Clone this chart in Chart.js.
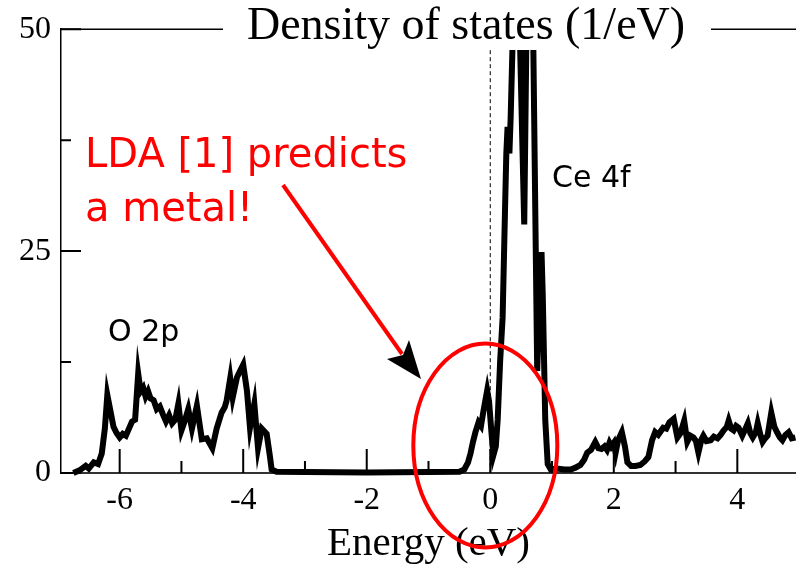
<!DOCTYPE html>
<html>
<head>
<meta charset="utf-8">
<script src="https://cdn.jsdelivr.net/npm/chart.js@4.4.0/dist/chart.umd.min.js"></script>
<style>
  body { margin: 0; background: #fff; }
  #wrap { width: 796px; height: 565px; }
</style>
</head>
<body>
<div id="wrap"><canvas id="dosChart" width="796" height="565"></canvas></div>
<script>
// Energy grid (eV) and density of states (1/eV)
const energy = [
  -6.75, -6.65, -6.55, -6.5, -6.42, -6.35, -6.29, -6.24, -6.2, -6.15,
  -6.1, -6.05, -6.0, -5.95, -5.9, -5.85, -5.8, -5.75, -5.7, -5.66,
  -5.62, -5.58, -5.54, -5.5, -5.45, -5.4, -5.35, -5.3, -5.25, -5.2,
  -5.15, -5.1, -5.05, -5.0, -4.95, -4.89, -4.83, -4.75, -4.67, -4.59,
  -4.5, -4.43, -4.35, -4.3, -4.27, -4.21, -4.17, -4.1, -4.05, -4.0,
  -3.94, -3.89, -3.82, -3.76, -3.7, -3.62, -3.57, -3.54, -3.46, -3.0,
  -2.0, -1.0, -0.5, -0.42, -0.36, -0.32, -0.28, -0.24, -0.19, -0.15,
  -0.11, -0.05, -0.02, 0.02, 0.05, 0.09, 0.12, 0.16, 0.2, 0.24,
  0.26, 0.28, 0.31, 0.33, 0.36, 0.4, 0.45, 0.55, 0.6, 0.68,
  0.76, 0.8, 0.83, 0.85, 0.89, 0.93, 0.98, 1.08, 1.2, 1.3,
  1.38, 1.46, 1.52, 1.57, 1.63, 1.7, 1.75, 1.8, 1.85, 1.89,
  1.93, 1.96, 2.0, 2.03, 2.07, 2.13, 2.18, 2.22, 2.28, 2.35,
  2.43, 2.5, 2.56, 2.62, 2.67, 2.72, 2.8, 2.85, 2.9, 2.97,
  3.03, 3.08, 3.14, 3.19, 3.24, 3.29, 3.33, 3.37, 3.42, 3.45,
  3.5, 3.57, 3.62, 3.68, 3.73, 3.78, 3.83, 3.86, 3.9, 3.94,
  3.98, 4.02, 4.08, 4.12, 4.17, 4.21, 4.25, 4.3, 4.33, 4.37,
  4.41, 4.45, 4.49, 4.55, 4.6, 4.65, 4.69, 4.73, 4.78, 4.83,
  4.88, 4.94
];
const dos = [
  0, 0.3, 0.8, 0.5, 1.2, 1.0, 2.2, 5.0, 8.8, 7.0,
  5.2, 4.5, 4.0, 4.4, 4.2, 5.0, 5.8, 6.0, 11.2, 9.2,
  9.6, 8.6, 9.2, 8.4, 8.2, 7.2, 7.5, 6.6, 5.8, 6.5,
  5.6, 6.0, 7.8, 4.8, 5.8, 7.2, 5.0, 7.6, 3.8, 3.9,
  2.8, 5.0, 6.8, 7.4, 8.1, 10.7, 8.5, 10.8, 11.5, 12.2,
  9.3, 5.1, 7.8, 2.8, 5.0, 4.4, 2.0, 0.4, 0.15, 0.1,
  0.05, 0.1, 0.15, 0.4, 1.2, 2.2, 3.5, 4.6, 5.7, 5.3,
  7.0, 9.3, 8.1, 4.5, 2.0, 3.0, 6.0, 12.6, 17.5, 30,
  36, 39, 36, 40, 48, 58, 58, 28, 58, 58,
  11.5, 20, 24.9, 20, 6, 1.0, 0.4, 0.5, 0.4, 0.4,
  0.6, 0.9, 1.5, 2.3, 2.6, 3.5, 2.8, 2.7, 3.0, 2.6,
  3.4, 3.0, 3.4, 2.3, 3.7, 4.6, 3.0, 1.2, 0.8, 0.8,
  0.9, 1.3, 1.8, 3.7, 4.6, 4.3, 5.1, 5.0, 5.7, 6.1,
  4.0, 4.5, 5.9, 3.5, 4.2, 4.0, 3.6, 2.3, 3.8, 4.2,
  3.6, 3.7, 4.1, 3.9, 4.3, 4.8, 5.2, 5.9, 5.0, 4.8,
  5.3, 5.1, 4.2, 4.8, 5.6, 4.5, 4.0, 4.6, 5.6, 4.4,
  3.5, 3.9, 4.2, 6.8, 5.2, 4.5, 4.0, 3.7, 4.3, 4.6,
  3.9, 4.0
];
const xTicks = [-6, -5, -4, -3, -2, -1, 0, 1, 2, 3, 4];
const xLabels = [-6, -4, -2, 0, 2, 4];
const yTicks = [0, 12.5, 25, 37.5, 50];
const yLabels = [0, 25, 50];

// dashed Fermi line, title, annotations and the inward tick marks
const decorations = {
    id: 'decorations',
    beforeDatasetsDraw(chart) {
        const ctx = chart.ctx;
        const area = chart.chartArea;
        const x0 = chart.scales.x.getPixelForValue(0);
        ctx.save();
        ctx.strokeStyle = '#000';
        ctx.lineWidth = 1;
        ctx.setLineDash([4, 3]);
        ctx.beginPath();
        ctx.moveTo(x0, area.top);
        ctx.lineTo(x0, area.bottom);
        ctx.stroke();
        ctx.restore();
    },
    afterDraw(chart) {
        const ctx = chart.ctx;
        const area = chart.chartArea;
        const xs = chart.scales.x;
        const ys = chart.scales.y;
        ctx.save();
        ctx.setLineDash([]);
        ctx.strokeStyle = '#000';

        // top frame line with title box over it
        ctx.lineWidth = 1.5;
        ctx.beginPath();
        ctx.moveTo(area.left, area.top);
        ctx.lineTo(area.right, area.top);
        ctx.stroke();
        ctx.fillStyle = '#fff';
        ctx.fillRect(223, 0, 488, 50);
        ctx.fillStyle = '#000';
        ctx.font = '46px "Liberation Serif"';
        ctx.textAlign = 'center';
        ctx.textBaseline = 'alphabetic';
        ctx.fillText('Density of states (1/eV)', 466, 39);

        // peak labels
        ctx.font = '30px "DejaVu Sans"';
        ctx.textAlign = 'left';
        ctx.fillText('Ce 4f', 552, 187);
        ctx.fillText('O 2p', 108, 341);

        // red remark
        ctx.fillStyle = '#f00';
        ctx.font = '40px "DejaVu Sans"';
        ctx.fillText('LDA [1] predicts', 85, 167);
        ctx.fillText('a metal!', 85, 221);

        // arrow
        ctx.strokeStyle = '#f00';
        ctx.lineWidth = 4;
        ctx.beginPath();
        ctx.moveTo(283, 185);
        ctx.lineTo(402, 354);
        ctx.stroke();
        ctx.fillStyle = '#000';
        ctx.beginPath();
        ctx.moveTo(421, 379);
        ctx.lineTo(387, 359);
        ctx.lineTo(403, 355);
        ctx.lineTo(409, 340);
        ctx.closePath();
        ctx.fill();

        // ellipse round the states at the Fermi level
        const cx = xs.getPixelForValue(-0.08);
        const cy = ys.getPixelForValue(3.1);
        ctx.strokeStyle = '#f00';
        ctx.lineWidth = 4;
        ctx.beginPath();
        ctx.ellipse(cx, cy, 72, 102, 0, 0, Math.PI * 2);
        ctx.stroke();

        // tick marks pointing into the plot
        ctx.strokeStyle = '#000';
        ctx.lineWidth = 2;
        ctx.beginPath();
        for (let i = 0; i < xTicks.length; i++) {
            const px = xs.getPixelForValue(xTicks[i]);
            const len = (xTicks[i] % 2 === 0) ? 24 : 12;
            ctx.moveTo(px, area.bottom);
            ctx.lineTo(px, area.bottom - len);
        }
        for (let i = 0; i < yTicks.length; i++) {
            const py = ys.getPixelForValue(yTicks[i]);
            const len = (yTicks[i] % 25 === 0) ? 20 : 10;
            ctx.moveTo(area.left, py);
            ctx.lineTo(area.left + len, py);
        }
        ctx.stroke();
        ctx.restore();
    }
};

const points = energy.map((e, i) => ({ x: e, y: dos[i] }));
const ctx = document.getElementById('dosChart').getContext('2d');
const dosChart = new Chart(ctx, {
    type: 'scatter',
    data: {
        datasets: [{
            data: points,
            showLine: true,
            borderColor: '#000',
            borderWidth: 6,
            pointRadius: 0,
            tension: 0,
            clip: { left: 0, top: 0, right: 0, bottom: 5 }
        }]
    },
    options: {
        responsive: false,
        animation: false,
        layout: { padding: { top: 25, left: 0, right: 0, bottom: 0 } },
        plugins: {
            legend: { display: false },
            tooltip: { enabled: false }
        },
        scales: {
            x: {
                type: 'linear',
                min: -6.95,
                max: 4.95,
                afterBuildTicks: s => { s.ticks = xTicks.map(v => ({ value: v })); },
                afterFit: s => { s.height = 92; },
                ticks: {
                    autoSkip: false,
                    maxRotation: 0,
                    padding: 8,
                    color: '#000',
                    font: { family: 'Liberation Serif', size: 32 },
                    callback: v => xLabels.includes(v) ? String(v) : ''
                },
                grid: { drawOnChartArea: false, drawTicks: false },
                border: { display: true, color: '#333', width: 2 },
                title: {
                    display: true,
                    text: 'Energy (eV)',
                    color: '#000',
                    font: { family: 'Liberation Serif', size: 41, lineHeight: 1.0 },
                    padding: { top: 0, bottom: 0 }
                }
            },
            y: {
                type: 'linear',
                min: 0,
                max: 50,
                afterBuildTicks: s => { s.ticks = yTicks.map(v => ({ value: v })); },
                afterFit: s => { s.width = 61; },
                ticks: {
                    autoSkip: false,
                    padding: 10,
                    color: '#000',
                    font: { family: 'Liberation Serif', size: 32 },
                    callback: v => yLabels.includes(v) ? String(v) : ''
                },
                grid: { drawOnChartArea: false, drawTicks: false },
                border: { display: true, color: '#000', width: 1.5 }
            }
        }
    },
    plugins: [decorations]
});
</script>
</body>
</html>
